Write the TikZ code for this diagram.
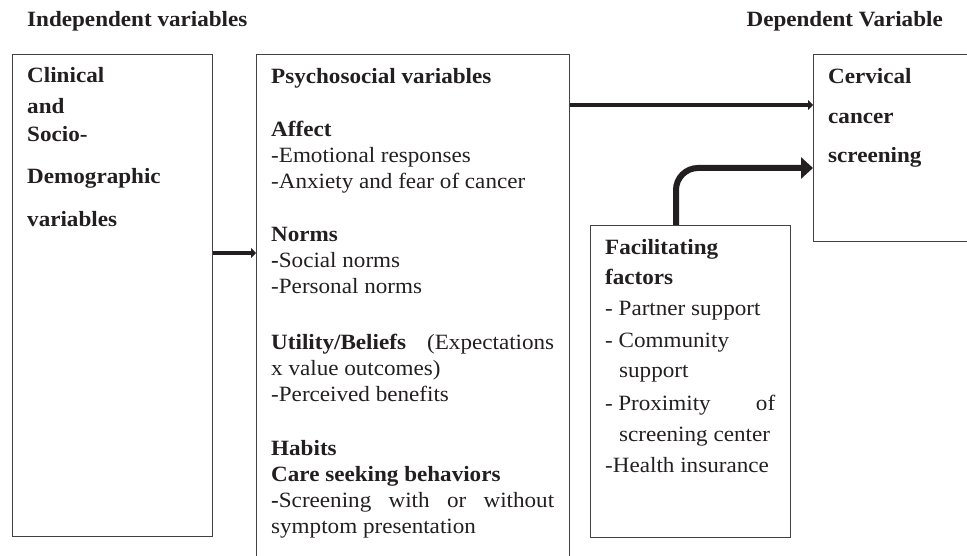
\documentclass[tikz,border=0pt]{standalone}
\usepackage{fontspec}
\setmainfont{Liberation Serif}[FakeStretch=1.06]
\usetikzlibrary{arrows.meta}
\definecolor{ink}{HTML}{231F20}
\begin{document}
\begin{tikzpicture}[x=1pt,y=-1pt,
  box/.style={draw=ink!85, line width=1pt, anchor=north west, inner sep=0pt},
  txt/.style={anchor=base west, inner sep=0pt, text=ink, font=\fontsize{21.8}{25}\selectfont},
  btxt/.style={txt, font=\fontsize{21.8}{25}\selectfont\bfseries},
  thinarr/.style={draw=ink, line width=4pt, -{Triangle[length=5pt,width=10pt]}},
  bigarr/.style={draw=ink, line width=6pt, rounded corners=22pt, -{Triangle[length=12pt,width=21pt]}}]
\useasboundingbox (0,0) rectangle (967,556);
\clip (0,0) rectangle (967,556);
% titles
\node[btxt] (tind) at (27,27) {Independent variables};
\node[btxt, anchor=base east] (tdep) at (943,27) {Dependent Variable};
% boxes
\node[box, minimum width=200pt, minimum height=482pt] (clin) at (12,54) {};
\node[box, minimum width=313pt, minimum height=530pt] (psy) at (256,54) {};
\node[box, minimum width=190pt, minimum height=187pt] (cerv) at (813,54) {};
\node[box, minimum width=200pt, minimum height=312pt] (fac) at (590,225) {};
% box 1 text
\node[btxt] (c1) at (27,83) {Clinical};
\node[btxt] (c2) at (27,114) {and};
\node[btxt] (c3) at (27,142) {Socio-};
\node[btxt] (c4) at (27,184) {Demographic};
\node[btxt] (c5) at (27,227) {variables};
% box 2 text
\node[btxt] (p1) at (271,84) {Psychosocial variables};
\node[btxt] (p2) at (271,137) {Affect};
\node[txt] (p3) at (271,163) {-Emotional responses};
\node[txt] (p4) at (271,189) {-Anxiety and fear of cancer};
\node[btxt] (p5) at (271,242) {Norms};
\node[txt] (p6) at (271,268) {{\bfseries -}Social norms};
\node[txt] (p7) at (271,294) {-Personal norms};
\node[txt] (p8) at (271,349) {\makebox[283pt][s]{{\bfseries Utility/Beliefs} (Expectations}};
\node[txt] (p9) at (271,375) {x value outcomes)};
\node[txt] (p10) at (271,401) {-Perceived benefits};
\node[btxt] (p11) at (271,455) {Habits};
\node[btxt] (p12) at (271,481) {Care seeking behaviors};
\node[txt] (p13) at (271,507) {\makebox[283pt][s]{{\bfseries -}Screening with or without}};
\node[txt] (p14) at (271,533) {symptom presentation};
% box 3 text
\node[btxt] (v1) at (828,84) {Cervical};
\node[btxt] (v2) at (828,124) {cancer};
\node[btxt] (v3) at (828,163) {screening};
% box 4 text
\node[btxt] (f1) at (605,255) {Facilitating};
\node[btxt] (f2) at (605,284) {factors};
\node[txt] (f3) at (605,316) {- Partner support};
\node[txt] (f4) at (605,347) {- Community};
\node[txt] (f5) at (619,377) {support};
\node[txt] (f6) at (605,410) {\makebox[170pt][s]{-\hspace{0.25em}Proximity of}};
\node[txt] (f7) at (619,441) {screening center};
\node[txt] (f8) at (605,472) {-Health insurance};
% connectors
\draw[thinarr] (clin.east |- 0,253) -- (psy.west |- 0,253);
\draw[thinarr] (psy.east |- 0,105) -- (cerv.west |- 0,105);
\draw[bigarr] (fac.north -| 676,0) |- (cerv.west |- 0,168);
\end{tikzpicture}
\end{document}
